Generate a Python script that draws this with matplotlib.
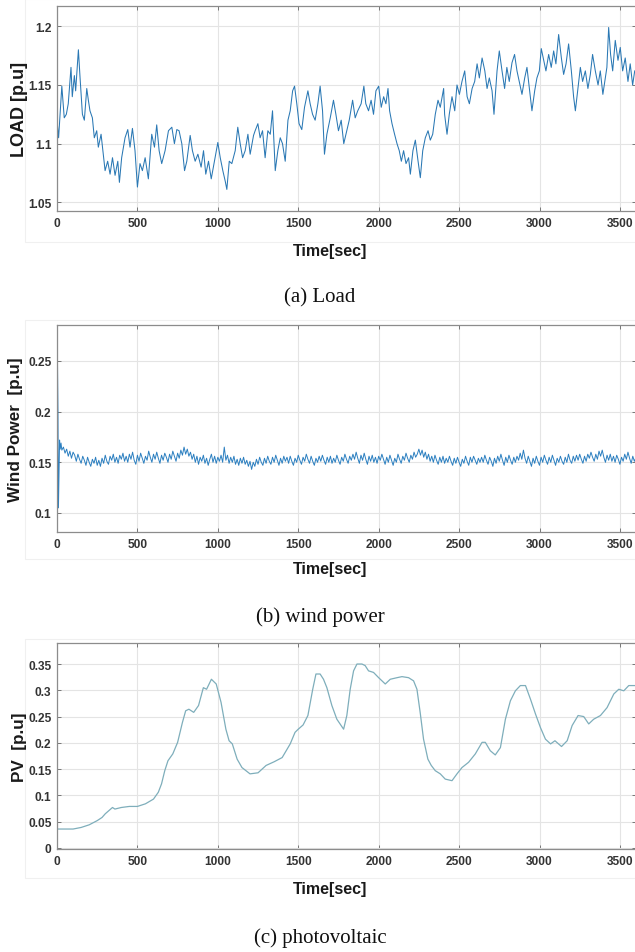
import matplotlib
matplotlib.use('Agg')
import matplotlib.pyplot as plt
from matplotlib.ticker import FuncFormatter
from matplotlib.patches import Rectangle

# ---------- data ----------
load_time = [
    0, 10, 30, 45, 58, 70, 87, 95, 108, 116, 133, 143, 158, 170, 185, 195, 205, 220, 232, 247,
    257, 274, 288, 299, 315, 330, 345, 361, 378, 388, 402, 423, 440, 454, 469, 485, 500, 516, 531, 548,
    568, 589, 606, 620, 635, 651, 672, 693, 714, 730, 745, 759, 776, 793, 807, 828, 842, 859, 876, 896,
    911, 925, 942, 959, 979, 1000, 1015, 1031, 1046, 1056, 1071, 1087, 1108, 1124, 1139, 1154, 1170, 1187, 1201, 1222,
    1232, 1249, 1263, 1278, 1294, 1311, 1326, 1340, 1357, 1373, 1388, 1402, 1419, 1436, 1450, 1465, 1477, 1491, 1505, 1522,
    1539, 1560, 1574, 1589, 1605, 1622, 1636, 1651, 1663, 1678, 1699, 1719, 1734, 1750, 1767, 1783, 1802, 1817, 1838, 1854,
    1870, 1891, 1908, 1920, 1937, 1953, 1968, 1983, 2000, 2016, 2031, 2045, 2058, 2068, 2083, 2099, 2114, 2128, 2141, 2155,
    2170, 2186, 2197, 2213, 2228, 2245, 2259, 2274, 2290, 2307, 2321, 2336, 2352, 2369, 2383, 2404,
    2410, 2425, 2439, 2456, 2473, 2487, 2502, 2518, 2535, 2550, 2564, 2581, 2597, 2612, 2626, 2643, 2660, 2674, 2688, 2705,
    2717, 2736, 2750, 2767, 2783, 2797, 2812, 2829, 2845, 2860, 2874, 2891, 2908, 2922, 2937, 2953, 2970, 2984, 2999, 3011,
    3026, 3040, 3057, 3073, 3088, 3102, 3119, 3136, 3150, 3165, 3181, 3198, 3212, 3223, 3239, 3254, 3268, 3285, 3301, 3316,
    3330, 3347, 3364, 3378, 3394, 3409, 3419, 3430, 3442, 3455, 3471, 3488, 3502, 3517, 3533, 3550, 3564, 3579, 3592,
]
load_value = [
    1.120, 1.105, 1.149, 1.122, 1.125, 1.134, 1.165, 1.140, 1.158, 1.145, 1.180, 1.157, 1.125, 1.120, 1.147, 1.137, 1.128, 1.122, 1.105, 1.111,
    1.097, 1.108, 1.091, 1.077, 1.085, 1.074, 1.088, 1.073, 1.085, 1.067, 1.088, 1.105, 1.112, 1.097, 1.113, 1.094, 1.063, 1.083, 1.077, 1.088,
    1.070, 1.108, 1.097, 1.116, 1.094, 1.083, 1.094, 1.111, 1.114, 1.100, 1.112, 1.111, 1.100, 1.077, 1.085, 1.107, 1.094, 1.085, 1.091, 1.080,
    1.094, 1.074, 1.085, 1.070, 1.085, 1.101, 1.088, 1.077, 1.068, 1.061, 1.085, 1.083, 1.094, 1.114, 1.100, 1.088, 1.094, 1.108, 1.091, 1.107,
    1.111, 1.117, 1.105, 1.111, 1.088, 1.111, 1.108, 1.128, 1.077, 1.094, 1.105, 1.100, 1.085, 1.120, 1.128, 1.145, 1.149, 1.134, 1.117, 1.112,
    1.131, 1.145, 1.134, 1.125, 1.120, 1.134, 1.149, 1.128, 1.091, 1.108, 1.122, 1.137, 1.125, 1.111, 1.120, 1.100, 1.111, 1.120, 1.137, 1.122,
    1.128, 1.134, 1.149, 1.134, 1.128, 1.137, 1.125, 1.145, 1.149, 1.131, 1.140, 1.134, 1.147, 1.128, 1.117, 1.108, 1.100, 1.094, 1.085, 1.094,
    1.083, 1.088, 1.074, 1.094, 1.103, 1.085, 1.071, 1.094, 1.105, 1.111, 1.103, 1.108, 1.125, 1.137, 1.131, 1.147,
    1.125, 1.108, 1.125, 1.140, 1.128, 1.150, 1.142, 1.153, 1.162, 1.140, 1.134, 1.147, 1.153, 1.168, 1.156, 1.173, 1.162, 1.147, 1.156, 1.145,
    1.125, 1.162, 1.179, 1.162, 1.147, 1.165, 1.153, 1.169, 1.176, 1.162, 1.153, 1.142, 1.156, 1.165, 1.147, 1.128, 1.145, 1.156, 1.162, 1.181,
    1.171, 1.162, 1.176, 1.165, 1.179, 1.168, 1.193, 1.173, 1.159, 1.168, 1.185, 1.162, 1.140, 1.128, 1.147, 1.165, 1.153, 1.162, 1.147, 1.159,
    1.176, 1.162, 1.150, 1.162, 1.142, 1.156, 1.165, 1.199, 1.176, 1.162, 1.188, 1.171, 1.182, 1.162, 1.173, 1.153, 1.168, 1.150, 1.162,
]

# first seconds of the wind trace, then one sample every 10 s from 40 s to 3600 s
wind_time = [0, 3, 6, 9, 12, 16, 20, 25, 30] + list(range(40, 3601, 10))
wind_value = [
    0.270, 0.250, 0.200, 0.105, 0.135, 0.172, 0.163, 0.169, 0.162,
    0.165, 0.159, 0.163, 0.156, 0.161, 0.154, 0.160, 0.157, 0.151, 0.158, 0.153, 0.149, 0.156, 0.152, 0.147, 0.155, 0.150, 0.146, 0.153, 0.149,
    0.155, 0.147, 0.152, 0.146, 0.154, 0.149, 0.157, 0.151, 0.148, 0.156, 0.152, 0.158, 0.150, 0.155, 0.149, 0.157, 0.153, 0.159, 0.151, 0.156,
    0.150, 0.158, 0.153, 0.160, 0.152, 0.148, 0.157, 0.151, 0.159, 0.154, 0.149, 0.156, 0.152, 0.161, 0.155, 0.150, 0.158, 0.153, 0.160, 0.154,
    0.149, 0.157, 0.152, 0.159, 0.155, 0.150, 0.158, 0.153, 0.161, 0.156, 0.151, 0.159, 0.154, 0.162, 0.157, 0.165, 0.158, 0.163, 0.156, 0.160,
    0.153, 0.158, 0.150, 0.156, 0.148, 0.155, 0.151, 0.157, 0.149, 0.154, 0.147, 0.153, 0.158, 0.150, 0.156, 0.149, 0.155, 0.151, 0.157, 0.150,
    0.165, 0.152, 0.157, 0.149, 0.155, 0.150, 0.156, 0.148, 0.153, 0.147, 0.154, 0.149, 0.155, 0.148, 0.152, 0.146, 0.151, 0.143, 0.150, 0.146,
    0.153, 0.148, 0.155, 0.150, 0.147, 0.154, 0.149, 0.156, 0.151, 0.148, 0.155, 0.150, 0.157, 0.152, 0.147, 0.154, 0.149, 0.156, 0.151, 0.155,
    0.149, 0.156, 0.151, 0.147, 0.154, 0.150, 0.157, 0.152, 0.148, 0.155, 0.151, 0.158, 0.153, 0.149, 0.156, 0.151, 0.147, 0.154, 0.150, 0.156,
    0.151, 0.157, 0.152, 0.148, 0.155, 0.150, 0.156, 0.149, 0.154, 0.150, 0.157, 0.152, 0.148, 0.155, 0.151, 0.158, 0.153, 0.149, 0.156, 0.152,
    0.158, 0.153, 0.160, 0.154, 0.149, 0.157, 0.152, 0.159, 0.153, 0.148, 0.156, 0.151, 0.157, 0.150, 0.155, 0.149, 0.156, 0.152, 0.158, 0.153,
    0.148, 0.155, 0.150, 0.157, 0.152, 0.147, 0.154, 0.150, 0.158, 0.153, 0.149, 0.156, 0.152, 0.159, 0.154, 0.150, 0.157, 0.153, 0.160, 0.155,
    0.158, 0.163, 0.157, 0.162, 0.155, 0.160, 0.153, 0.158, 0.151, 0.156, 0.150, 0.157, 0.152, 0.148, 0.155, 0.150, 0.156, 0.149, 0.154, 0.150,
    0.156, 0.151, 0.147, 0.154, 0.149, 0.155, 0.150, 0.146, 0.153, 0.149, 0.156, 0.151, 0.147, 0.155, 0.150, 0.156, 0.152, 0.148, 0.154, 0.150,
    0.155, 0.150, 0.157, 0.152, 0.148, 0.155, 0.151, 0.146, 0.154, 0.149, 0.156, 0.151, 0.158, 0.152, 0.147, 0.155, 0.150, 0.157, 0.152, 0.148,
    0.155, 0.150, 0.156, 0.152, 0.159, 0.153, 0.162, 0.154, 0.149, 0.156, 0.151, 0.146, 0.154, 0.149, 0.156, 0.151, 0.147, 0.155, 0.150, 0.157,
    0.152, 0.148, 0.155, 0.150, 0.157, 0.152, 0.147, 0.154, 0.150, 0.156, 0.151, 0.148, 0.155, 0.150, 0.158, 0.152, 0.149, 0.156, 0.151, 0.157,
    0.152, 0.158, 0.153, 0.149, 0.156, 0.151, 0.158, 0.154, 0.160, 0.155, 0.151, 0.158, 0.153, 0.161, 0.156, 0.162, 0.155, 0.150, 0.157, 0.152,
    0.158, 0.151, 0.156, 0.150, 0.157, 0.153, 0.148, 0.155, 0.151, 0.158, 0.153, 0.160, 0.154, 0.149, 0.156, 0.151, 0.155,
]

pv_time = [
    0, 100, 150, 200, 250, 280, 300, 330, 345, 360, 400, 450, 500, 550, 600, 630, 650, 670, 690, 720,
    750, 780, 800, 820, 850, 880, 910, 930, 960, 990, 1020, 1050, 1070, 1090, 1120, 1150, 1200, 1250, 1300, 1350,
    1400, 1450, 1480, 1500, 1530, 1560, 1590, 1610, 1636, 1657, 1678, 1709, 1740, 1782, 1802, 1823, 1844, 1865, 1896, 1916,
    1937, 1968, 2000, 2041, 2072, 2114, 2145, 2186, 2217, 2238, 2258, 2279, 2306, 2327, 2352, 2383, 2414, 2456, 2487, 2518,
    2559, 2601, 2643, 2663, 2694, 2725, 2757, 2788, 2819, 2850, 2881, 2913, 2944, 2975, 3006, 3037, 3069, 3096, 3137, 3172,
    3203, 3240, 3275, 3306, 3337, 3379, 3420, 3462, 3493, 3524, 3555, 3600,
]
pv_value = [
    0.036, 0.036, 0.039, 0.044, 0.052, 0.058, 0.065, 0.073, 0.077, 0.074, 0.077, 0.079, 0.079, 0.084, 0.093, 0.106, 0.122, 0.147, 0.166, 0.179,
    0.201, 0.239, 0.261, 0.264, 0.258, 0.271, 0.305, 0.302, 0.321, 0.312, 0.277, 0.226, 0.204, 0.198, 0.169, 0.153, 0.141, 0.143, 0.157, 0.164,
    0.172, 0.198, 0.220, 0.226, 0.234, 0.252, 0.302, 0.331, 0.331, 0.321, 0.305, 0.271, 0.245, 0.226, 0.252, 0.302, 0.337, 0.350, 0.350, 0.347,
    0.337, 0.334, 0.324, 0.312, 0.321, 0.324, 0.326, 0.324, 0.318, 0.302, 0.258, 0.207, 0.169, 0.157, 0.147, 0.141, 0.131, 0.128, 0.141, 0.153,
    0.163, 0.179, 0.201, 0.201, 0.185, 0.177, 0.191, 0.245, 0.280, 0.299, 0.309, 0.309, 0.283, 0.255, 0.229, 0.207, 0.198, 0.204, 0.193, 0.204,
    0.233, 0.252, 0.250, 0.236, 0.245, 0.252, 0.267, 0.293, 0.302, 0.299, 0.309, 0.309,
]

x_ticks = [0, 500, 1000, 1500, 2000, 2500, 3000, 3500]

# ---------- style ----------
plt.rcParams['font.family'] = ['Liberation Sans', 'DejaVu Sans']

W, H = 635, 953
fig = plt.figure(figsize=(W / 100, H / 100), dpi=100)


def px_axes(left, top, right, bottom):
    return fig.add_axes([left / W, 1 - bottom / H, (right - left) / W, (bottom - top) / H])


def style(ax, ylim, yticks, ylabel, ylsize, ylx, xly):
    ax.set_xlim(0, 3600)
    ax.set_ylim(*ylim)
    ax.set_xticks(x_ticks)
    ax.set_yticks(yticks)
    ax.yaxis.set_major_formatter(FuncFormatter(lambda v, p: f'{v:g}'))
    ax.grid(True, color='#e4e4e4', linewidth=0.8)
    ax.set_axisbelow(True)
    ax.tick_params(direction='in', length=3, width=0.6, color='#666666',
                   labelsize=8.6, labelcolor='#333333', top=True, right=True, pad=4)
    for lbl in ax.get_xticklabels() + ax.get_yticklabels():
        lbl.set_fontweight('bold')
    for sp in ax.spines.values():
        sp.set_color('#8c8c8c')
        sp.set_linewidth(0.9)
    ax.set_xlabel('Time[sec]', fontsize=11.5, fontweight='bold', color='#1a1a1a')
    ax.xaxis.set_label_coords(0.472, xly)
    ax.set_ylabel(ylabel, fontsize=ylsize, fontweight='bold', color='#1a1a1a')
    ax.yaxis.set_label_coords(ylx, 0.5)


# faint export frames around each panel
for (y0, y1) in [(0, 243), (321, 560), (640, 879)]:
    frame = Rectangle((25 / W, 1 - y1 / H), (W - 24) / W, (y1 - y0) / H,
                      transform=fig.transFigure, fill=False,
                      edgecolor='#f0f0f0', linewidth=0.8, zorder=-5)
    fig.add_artist(frame)

# (a) load
ax1 = px_axes(57, 7, 636, 212)
ax1.plot(load_time, load_value, color='#2a78b4', linewidth=0.75)
style(ax1, (1.0426, 1.2173), [1.05, 1.1, 1.15, 1.2], 'LOAD [p.u]', 13, -0.050, -0.156)

# (b) wind power
ax2 = px_axes(57, 326, 636, 533)
ax2.plot(wind_time, wind_value, color='#2b7fc0', linewidth=0.7)
style(ax2, (0.0812, 0.2855), [0.1, 0.15, 0.2, 0.25], 'Wind Power  [p.u]', 12.3, -0.058, -0.140)

# (c) photovoltaic
ax3 = px_axes(57, 644, 636, 850)
ax3.plot(pv_time, pv_value, color='#7eaebb', linewidth=0.9)
style(ax3, (-0.002, 0.39), [0, 0.05, 0.1, 0.15, 0.2, 0.25, 0.3, 0.35], 'PV  [p.u]', 12.3, -0.052, -0.155)

# captions
cap = dict(ha='center', va='center', fontsize=15, family=['Liberation Serif', 'DejaVu Serif'], color='#111111')
fig.text(320 / W, 1 - 298 / H, '(a) Load', **cap)
fig.text(320 / W, 1 - 617 / H, '(b) wind power', **cap)
fig.text(320 / W, 1 - 938 / H, '(c) photovoltaic', **cap)

fig.savefig('out.png', dpi=100)
